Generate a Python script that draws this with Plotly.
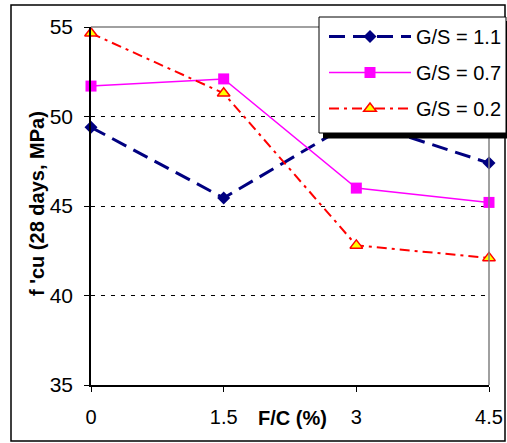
import plotly.graph_objects as go

# ---- data ----
fc = [0, 1.5, 3, 4.5]
x_ticklabels = ["0", "1.5", "3", "4.5"]
gs_11 = [49.4, 45.45, 49.8, 47.4]
gs_07 = [51.7, 52.1, 46.0, 45.2]
gs_02 = [54.65, 51.3, 42.8, 42.1]
y_ticks = [35, 40, 45, 50, 55]
names = ["G/S = 1.1", "G/S = 0.7", "G/S = 0.2"]

W, H = 507, 443
ML, MR, MT, MB = 91, 18, 27, 58
PW, PH = W - ML - MR, H - MT - MB


def px(x):
    # x in window pixels -> paper coordinate
    return (x - ML) / PW


def py(y):
    # y in window pixels -> paper coordinate
    return (H - MB - y) / PH


FONT = "Arial, Liberation Sans, sans-serif"

fig = go.Figure()
fig.add_trace(go.Scatter(
    x=fc, y=gs_11, name=names[0], mode="lines+markers", legendgroup="a",
    line=dict(color="#000080", width=3, dash="16px,8px"),
    marker=dict(symbol="diamond", size=10, color="#000080"),
    cliponaxis=False))
fig.add_trace(go.Scatter(
    x=fc, y=gs_07, name=names[1], mode="lines+markers", legendgroup="b",
    line=dict(color="#FF00FF", width=1.5),
    marker=dict(symbol="square", size=11, color="#FF00FF"),
    cliponaxis=False))
fig.add_trace(go.Scatter(
    x=fc, y=gs_02, name=names[2], mode="lines+markers", legendgroup="c",
    line=dict(color="#FF0000", width=2, dash="10px,5px,3px,5px"),
    marker=dict(symbol="triangle-up", size=11, color="#FFFF00",
                line=dict(color="#FF0000", width=1.5)),
    cliponaxis=False))

shapes = [
    # outer frame
    dict(type="rect", xref="paper", yref="paper", x0=px(11), x1=px(505), y0=py(441), y1=py(5),
         line=dict(color="black", width=1.5), layer="below"),
    # top and right plot border (gray)
    dict(type="line", xref="paper", yref="paper", x0=0, x1=1, y0=1, y1=1,
         line=dict(color="#808080", width=1.5), layer="above"),
    dict(type="line", xref="paper", yref="paper", x0=1, x1=1, y0=0, y1=1,
         line=dict(color="#808080", width=1.5), layer="above"),
    # legend shadow and box
    dict(type="rect", xref="paper", yref="paper", x0=px(323), x1=px(509), y0=py(138.5), y1=py(21),
         fillcolor="black", line=dict(width=0), layer="above"),
    dict(type="rect", xref="paper", yref="paper", x0=px(319), x1=px(506), y0=py(133), y1=py(17),
         fillcolor="white", line=dict(color="black", width=1), layer="above"),
]

annotations = [
    dict(text="<b>f 'cu (28 days, MPa)</b>", xref="paper", yref="paper",
         x=px(37), y=py(204), textangle=-90, showarrow=False,
         font=dict(family=FONT, size=20, color="black"), xanchor="center", yanchor="middle"),
    dict(text="<b>F/C (%)</b>", xref="paper", yref="paper",
         x=px(292), y=py(418), showarrow=False,
         font=dict(family=FONT, size=20, color="black"), xanchor="center", yanchor="middle"),
]

fig.update_layout(
    width=W, height=H,
    margin=dict(l=ML, r=MR, t=MT, b=MB, pad=0, autoexpand=False),
    paper_bgcolor="white", plot_bgcolor="white",
    font=dict(family=FONT, size=19, color="black"),
    showlegend=True,
    legend=dict(x=px(324), y=py(17), xanchor="left", yanchor="top",
                bgcolor="rgba(0,0,0,0)", borderwidth=0,
                font=dict(family=FONT, size=20, color="black"),
                traceorder="grouped", tracegroupgap=7, itemwidth=82),
    shapes=shapes,
    annotations=annotations,
)
fig.update_xaxes(
    range=[0, 4.5], tickvals=fc, ticktext=x_ticklabels,
    showgrid=False, zeroline=False, showline=True, linecolor="black", linewidth=1.5,
    ticks="outside", ticklen=5, tickcolor="black", tickwidth=1,
    tickfont=dict(family=FONT, size=20), ticklabelstandoff=8)
fig.update_yaxes(
    range=[35, 55], tickvals=y_ticks,
    showgrid=True, gridcolor="black", gridwidth=1, griddash="4px,6px",
    zeroline=False, showline=True, linecolor="black", linewidth=1.5,
    ticks="outside", ticklen=5, tickcolor="black", tickwidth=1,
    tickfont=dict(family=FONT, size=21), ticklabelstandoff=7)

fig.write_html(
    "out.html",
    config={"displayModeBar": False},
    post_script="document.body.style.margin='0';document.body.style.overflow='hidden';",
)
